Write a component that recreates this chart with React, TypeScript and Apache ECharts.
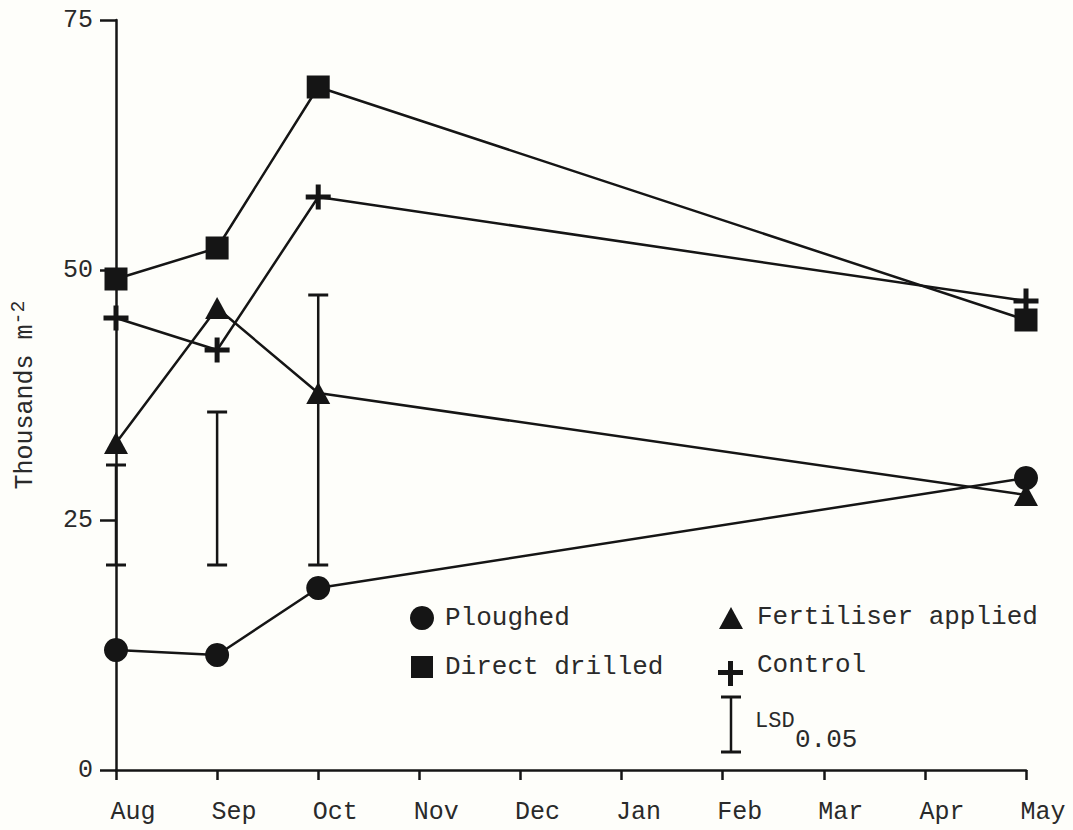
import React, { useEffect, useRef } from "react";
import * as echarts from "echarts";

const months = ["Aug", "Sep", "Oct", "Nov", "Dec", "Jan", "Feb", "Mar", "Apr", "May"];
const yTicks = [0, 25, 50, 75];

const ploughed: [string, number][] = [["Aug", 12.0], ["Sep", 11.5], ["Oct", 18.2], ["May", 29.2]];
const directDrilled: [string, number][] = [["Aug", 49.1], ["Sep", 52.2], ["Oct", 68.3], ["May", 45.0]];
const fertiliser: [string, number][] = [["Aug", 32.7], ["Sep", 46.2], ["Oct", 37.7], ["May", 27.5]];
const control: [string, number][] = [["Aug", 45.2], ["Sep", 42.0], ["Oct", 57.3], ["May", 46.9]];
// LSD 0.05 bars: [month, low, high]
const lsd: [string, number, number][] = [["Aug", 20.5, 30.5], ["Sep", 20.5, 35.8], ["Oct", 20.5, 47.5]];

const FONT = "Liberation Mono";
const INK = "#151515";
const TXT = "#2a2a2a";
const CROSS = "path://M10,0 H15 V10 H25 V15 H15 V25 H10 V15 H0 V10 H10 Z";

export default function App() {
  const ref = useRef<HTMLDivElement>(null);
  useEffect(() => {
    document.body.style.margin = "0";
    const chart = echarts.init(ref.current!, null, { renderer: "svg" });
    const lineBase = {
      type: "line" as const,
      connectNulls: true,
      lineStyle: { color: INK, width: 2.5 },
      itemStyle: { color: INK },
      z: 3,
    };
    chart.setOption({
      animation: false,
      backgroundColor: "#fefefa",
      grid: { left: 113, right: 47, top: 20, bottom: 60 },
      xAxis: {
        type: "category",
        data: months,
        boundaryGap: false,
        axisLine: { lineStyle: { color: INK, width: 2.5 } },
        axisTick: { show: true, length: 10, lineStyle: { color: INK, width: 2.5 } },
        axisLabel: {
          fontFamily: FONT,
          fontSize: 25,
          color: TXT,
          margin: 30,
          padding: [0, 0, 0, 34],
        },
        splitLine: { show: false },
      },
      yAxis: {
        type: "value",
        min: yTicks[0],
        max: yTicks[yTicks.length - 1],
        interval: 25,
        name: "{a|Thousands m}{s|-2}",
        nameLocation: "middle",
        nameRotate: 90,
        nameGap: 78,
        nameTextStyle: {
          rich: {
            a: { fontFamily: FONT, fontSize: 25, color: TXT, lineHeight: 30, verticalAlign: "bottom" },
            s: { fontFamily: FONT, fontSize: 20, color: TXT, lineHeight: 30, verticalAlign: "top", padding: [0, 0, 8, 0] },
          },
        },
        axisLine: { show: true, lineStyle: { color: INK, width: 2.5 } },
        axisTick: { show: true, length: 16, lineStyle: { color: INK, width: 2.5 } },
        axisLabel: { fontFamily: FONT, fontSize: 25, color: TXT, margin: 23 },
        splitLine: { show: false },
      },
      series: [
        {
          ...lineBase,
          name: "Ploughed",
          data: ploughed,
          symbol: "circle",
          symbolSize: 24,
        },
        {
          ...lineBase,
          name: "Fertiliser applied",
          data: fertiliser,
          symbol: "triangle",
          symbolSize: [24, 22],
        },
        {
          ...lineBase,
          name: "Control",
          data: control,
          symbol: CROSS,
          symbolSize: 25,
          symbolKeepAspect: true,
        },
        {
          ...lineBase,
          name: "Direct drilled",
          data: directDrilled,
          symbol: "rect",
          symbolSize: 23,
        },
        {
          type: "custom",
          name: "LSD",
          data: lsd,
          encode: { x: 0, y: [1, 2] },
          z: 2,
          renderItem: (params: any, api: any) => {
            const lo = api.coord([api.value(0), api.value(1)]);
            const hi = api.coord([api.value(0), api.value(2)]);
            const w = 10;
            const style = { stroke: INK, lineWidth: 2.5 };
            return {
              type: "group",
              children: [
                { type: "line", shape: { x1: lo[0], y1: lo[1], x2: hi[0], y2: hi[1] }, style },
                { type: "line", shape: { x1: lo[0] - w, y1: lo[1], x2: lo[0] + w, y2: lo[1] }, style: { ...style, lineWidth: 3 } },
                { type: "line", shape: { x1: hi[0] - w, y1: hi[1], x2: hi[0] + w, y2: hi[1] }, style: { ...style, lineWidth: 3 } },
              ],
            };
          },
        },
      ],
      graphic: [
        { type: "circle", shape: { cx: 422, cy: 618, r: 12 }, style: { fill: INK } },
        { type: "text", x: 445, y: 618, style: { text: "Ploughed", font: `26px "${FONT}"`, fill: TXT, textVerticalAlign: "middle" } },
        { type: "rect", shape: { x: 411, y: 656, width: 22, height: 22 }, style: { fill: INK } },
        { type: "text", x: 445, y: 667, style: { text: "Direct drilled", font: `26px "${FONT}"`, fill: TXT, textVerticalAlign: "middle" } },
        { type: "polygon", shape: { points: [[731, 607], [743, 629], [719, 629]] }, style: { fill: INK } },
        { type: "text", x: 757, y: 617, style: { text: "Fertiliser applied", font: `26px "${FONT}"`, fill: TXT, textVerticalAlign: "middle" } },
        { type: "rect", shape: { x: 718, y: 670, width: 25, height: 5 }, style: { fill: INK } },
        { type: "rect", shape: { x: 728, y: 661, width: 5, height: 25 }, style: { fill: INK } },
        { type: "text", x: 757, y: 665, style: { text: "Control", font: `26px "${FONT}"`, fill: TXT, textVerticalAlign: "middle" } },
        { type: "line", shape: { x1: 731, y1: 697, x2: 731, y2: 752 }, style: { stroke: INK, lineWidth: 2.5 } },
        { type: "line", shape: { x1: 721, y1: 697, x2: 741, y2: 697 }, style: { stroke: INK, lineWidth: 3 } },
        { type: "line", shape: { x1: 721, y1: 752, x2: 741, y2: 752 }, style: { stroke: INK, lineWidth: 3 } },
        { type: "text", x: 755, y: 721, style: { text: "LSD", font: `22px "${FONT}"`, fill: TXT, textVerticalAlign: "middle" } },
        { type: "text", x: 795, y: 740, style: { text: "0.05", font: `26px "${FONT}"`, fill: TXT, textVerticalAlign: "middle" } },
      ],
    });
    return () => chart.dispose();
  }, []);
  return <div ref={ref} style={{ width: 1073, height: 830 }} />;
}
